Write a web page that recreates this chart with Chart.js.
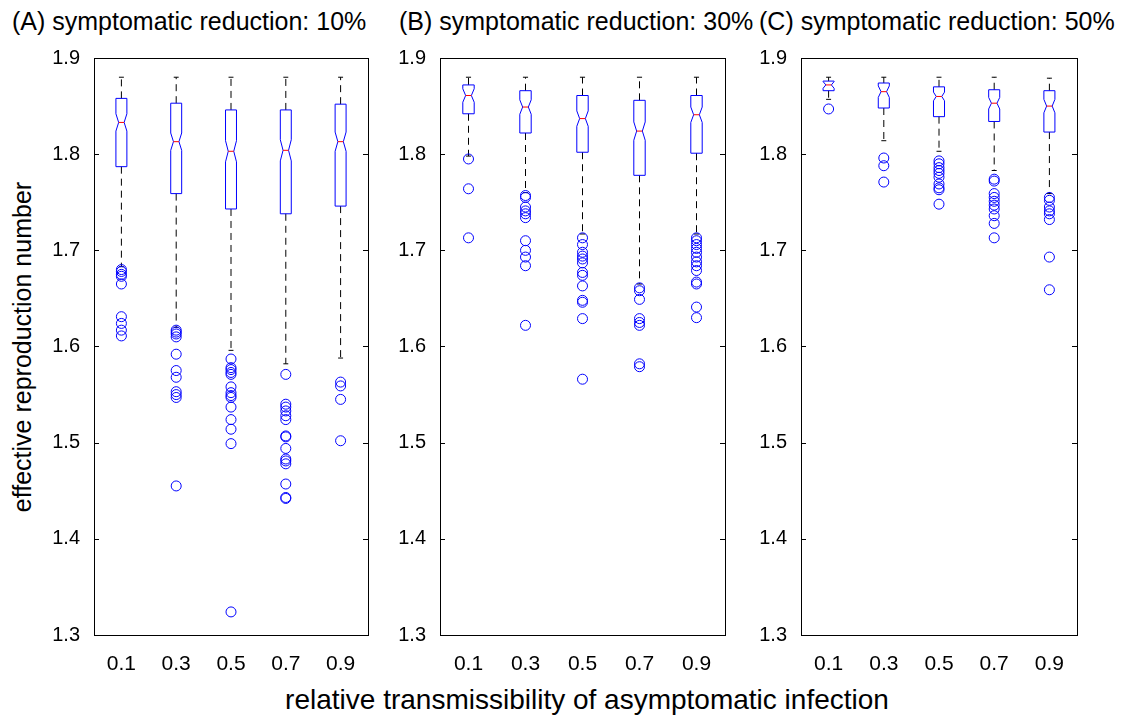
<!DOCTYPE html>
<html>
<head>
<meta charset="utf-8">
<script src="https://cdn.jsdelivr.net/npm/chart.js@4"></script>
<style>
	body { margin: 0; background: #fff; width: 1133px; height: 721px; position: relative; overflow: hidden; font-family: "Liberation Sans", Arial, sans-serif; }
	canvas { position: absolute; }
	.txt { position: absolute; white-space: nowrap; color: #000; }
	.ttl { font-size: 25px; top: 7px; }
</style>
</head>
<body>
<div class="txt ttl" style="left:12px">(A) symptomatic reduction: 10%</div>
<div class="txt ttl" style="left:399px">(B) symptomatic reduction: 30%</div>
<div class="txt ttl" style="left:759px">(C) symptomatic reduction: 50%</div>
<div class="txt" style="left:22px;top:347px;font-size:25px;transform:translate(-50%,-50%) rotate(-90deg)">effective reproduction number</div>
<div class="txt" style="left:587px;top:700px;font-size:28px;transform:translate(-50%,-50%)">relative transmissibility of asymptomatic infection</div>

<canvas id="chartA" width="350" height="645" style="left:24px;top:40px"></canvas>
<canvas id="chartB" width="361" height="645" style="left:370px;top:40px"></canvas>
<canvas id="chartC" width="352" height="645" style="left:731px;top:40px"></canvas>

<script>
// x categories (relative transmissibility)
var xLabels = ["0.1", "0.3", "0.5", "0.7", "0.9"];
var yTicks = [1.3, 1.4, 1.5, 1.6, 1.7, 1.8, 1.9];

// (A) 10%
var hiA = [1.880, 1.880, 1.880, 1.880, 1.880];
var q3A = [1.858, 1.853, 1.846, 1.846, 1.852];
var medA = [1.833, 1.813, 1.803, 1.804, 1.813];
var q1A = [1.787, 1.759, 1.743, 1.738, 1.746];
var loA = [1.683, 1.620, 1.596, 1.582, 1.588];
var notchA = [0.009, 0.009, 0.011, 0.011, 0.010];
var outA = [
	[1.680, 1.678, 1.675, 1.673, 1.665, 1.631, 1.624, 1.617, 1.611],
	[1.617, 1.615, 1.613, 1.610, 1.592, 1.575, 1.568, 1.553, 1.550, 1.547, 1.455],
	[1.587, 1.578, 1.576, 1.573, 1.571, 1.558, 1.552, 1.549, 1.547, 1.537, 1.524, 1.514, 1.499, 1.324],
	[1.571, 1.540, 1.537, 1.533, 1.528, 1.524, 1.507, 1.506, 1.494, 1.483, 1.481, 1.478, 1.457, 1.443, 1.442],
	[1.563, 1.559, 1.545, 1.502]
];

// (B) 30%
var hiB = [1.880, 1.880, 1.880, 1.880, 1.880];
var q3B = [1.872, 1.866, 1.861, 1.856, 1.861];
var medB = [1.861, 1.849, 1.837, 1.824, 1.841];
var q1B = [1.842, 1.822, 1.802, 1.778, 1.801];
var loB = [1.798, 1.760, 1.717, 1.665, 1.717];
var notchB = [0.007, 0.0075, 0.008, 0.0095, 0.008];
var outB = [
	[1.795, 1.764, 1.713],
	[1.757, 1.755, 1.745, 1.741, 1.738, 1.734, 1.710, 1.700, 1.693, 1.684, 1.622],
	[1.713, 1.706, 1.698, 1.694, 1.691, 1.687, 1.677, 1.674, 1.663, 1.648, 1.646, 1.629, 1.566],
	[1.661, 1.658, 1.649, 1.629, 1.625, 1.622, 1.582, 1.579],
	[1.713, 1.710, 1.706, 1.702, 1.698, 1.693, 1.688, 1.684, 1.679, 1.667, 1.665, 1.641, 1.630]
];

// (C) 50%
var hiC = [1.880, 1.880, 1.880, 1.880, 1.879];
var q3C = [1.876, 1.874, 1.870, 1.867, 1.866];
var medC = [1.872, 1.865, 1.860, 1.853, 1.850];
var q1C = [1.866, 1.848, 1.839, 1.834, 1.823];
var loC = [1.857, 1.814, 1.803, 1.783, 1.759];
var notchC = [0.0035, 0.006, 0.0045, 0.006, 0.007];
var outC = [
	[1.847],
	[1.796, 1.788, 1.771],
	[1.793, 1.790, 1.786, 1.783, 1.780, 1.776, 1.769, 1.765, 1.763, 1.748],
	[1.774, 1.772, 1.759, 1.755, 1.751, 1.747, 1.743, 1.736, 1.728, 1.713],
	[1.755, 1.752, 1.745, 1.741, 1.738, 1.732, 1.693, 1.659]
];

var FONT = "Liberation Sans, Arial, sans-serif";

// draws whiskers, notched boxes and medians from the stats arrays
var boxPlugin = {
	id: "boxes",
	beforeDatasetsDraw: function(chart) {
		var st = chart.options.plugins.boxes;
		var xs = chart.scales.x, ys = chart.scales.y;
		var ctx = chart.ctx;
		var W = 0.1, capW = 0.045;
		var px = function(v) { return xs.getPixelForValue(v); };
		var py = function(v) { return ys.getPixelForValue(v); };
		ctx.save();
		for (var i = 0; i < st.med.length; i++) {
			var c = i + 1;

			// whiskers
			ctx.strokeStyle = "#000";
			ctx.lineWidth = 1;
			ctx.setLineDash([7, 5]);
			ctx.beginPath();
			ctx.moveTo(px(c), py(st.q3[i]));
			ctx.lineTo(px(c), py(st.hi[i]));
			ctx.moveTo(px(c), py(st.q1[i]));
			ctx.lineTo(px(c), py(st.lo[i]));
			ctx.stroke();
			ctx.setLineDash([]);
			ctx.beginPath();
			ctx.moveTo(px(c - capW), py(st.hi[i]));
			ctx.lineTo(px(c + capW), py(st.hi[i]));
			ctx.moveTo(px(c - capW), py(st.lo[i]));
			ctx.lineTo(px(c + capW), py(st.lo[i]));
			ctx.stroke();

			// notched box
			var nLo = st.med[i] - st.notch[i], nHi = st.med[i] + st.notch[i];
			ctx.strokeStyle = "#0000ff";
			ctx.beginPath();
			ctx.moveTo(px(c - W), py(st.q1[i]));
			ctx.lineTo(px(c - W), py(nLo));
			ctx.lineTo(px(c - W / 2), py(st.med[i]));
			ctx.lineTo(px(c - W), py(nHi));
			ctx.lineTo(px(c - W), py(st.q3[i]));
			ctx.lineTo(px(c + W), py(st.q3[i]));
			ctx.lineTo(px(c + W), py(nHi));
			ctx.lineTo(px(c + W / 2), py(st.med[i]));
			ctx.lineTo(px(c + W), py(nLo));
			ctx.lineTo(px(c + W), py(st.q1[i]));
			ctx.closePath();
			ctx.stroke();

			// median
			ctx.strokeStyle = "#ff0000";
			ctx.beginPath();
			ctx.moveTo(px(c - W / 2), py(st.med[i]));
			ctx.lineTo(px(c + W / 2), py(st.med[i]));
			ctx.stroke();
		}
		ctx.restore();
	},
	afterDraw: function(chart) {
		// frame and inward y ticks, matlab style
		var a = chart.chartArea, ctx = chart.ctx, ys = chart.scales.y;
		ctx.save();
		ctx.strokeStyle = "#000";
		ctx.lineWidth = 1;
		ctx.strokeRect(Math.round(a.left) + 0.5, Math.round(a.top) + 0.5, Math.round(a.right - a.left), Math.round(a.bottom - a.top));
		ctx.beginPath();
		yTicks.forEach(function(t) {
			var y = Math.round(ys.getPixelForValue(t)) + 0.5;
			ctx.moveTo(a.left, y);
			ctx.lineTo(a.left + 5, y);
			ctx.moveTo(a.right, y);
			ctx.lineTo(a.right - 5, y);
		});
		ctx.stroke();
		ctx.restore();
	}
};

function makePanel(id, stats, outliers, padRight) {
	var pts = [];
	for (var i = 0; i < outliers.length; i++) {
		outliers[i].forEach(function(v) {
			pts.push({ x: i + 1, y: v });
		});
	}
	return new Chart(id, {
		type: "scatter",
		data: {
			datasets: [{
				data: pts,
				pointStyle: "circle",
				pointRadius: 5,
				pointHoverRadius: 5,
				borderColor: "#0000ff",
				backgroundColor: "rgba(0,0,0,0)",
				borderWidth: 1
			}]
		},
		options: {
			responsive: false,
			animation: false,
			events: [],
			layout: { padding: { top: 18, right: padRight, left: 0, bottom: 0 } },
			plugins: {
				legend: { display: false },
				tooltip: { enabled: false },
				boxes: stats
			},
			scales: {
				x: {
					type: "linear",
					min: 0.5,
					max: 5.5,
					grid: { display: false },
					border: { display: false },
					afterBuildTicks: function(s) {
						s.ticks = xLabels.map(function(l, i) { return { value: i + 1 }; });
					},
					afterFit: function(s) { s.height = 50; },
					ticks: {
						autoSkip: false,
						maxRotation: 0,
						padding: 9,
						color: "#000",
						font: { family: FONT, size: 21 },
						callback: function(v) { return xLabels[v - 1]; }
					}
				},
				y: {
					min: 1.3,
					max: 1.9,
					grid: { display: false },
					border: { display: false },
					afterBuildTicks: function(s) {
						s.ticks = yTicks.map(function(t) { return { value: t }; });
					},
					afterFit: function(s) { s.width = 70; },
					ticks: {
						padding: 6,
						color: "#000",
						font: { family: FONT, size: 20 },
						callback: function(v) { return v.toFixed(1); }
					}
				}
			}
		},
		plugins: [boxPlugin]
	});
}

makePanel("chartA", { hi: hiA, q3: q3A, med: medA, q1: q1A, lo: loA, notch: notchA }, outA, 6);
makePanel("chartB", { hi: hiB, q3: q3B, med: medB, q1: q1B, lo: loB, notch: notchB }, outB, 5);
makePanel("chartC", { hi: hiC, q3: q3C, med: medC, q1: q1C, lo: loC, notch: notchC }, outC, 4);
</script>
</body>
</html>
